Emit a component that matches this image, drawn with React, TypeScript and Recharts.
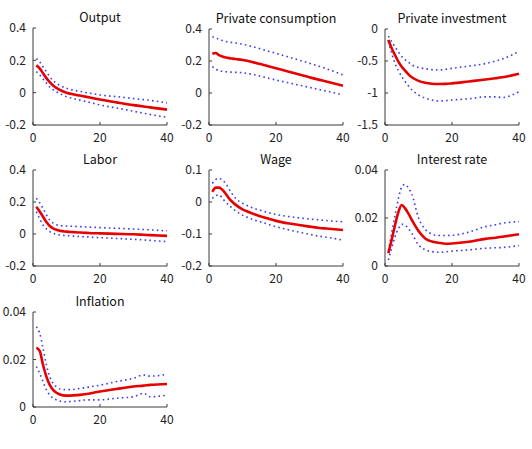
import { LineChart, Line, XAxis, YAxis } from 'recharts';

// Horizon (quarters after the shock) at which responses are recorded
const periods = [1, 2, 3, 4, 5, 6, 7, 8, 10, 12, 14, 16, 18, 20, 25, 30, 33, 35, 40];

const outputMean = [0.17, 0.15, 0.12, 0.09, 0.065, 0.045, 0.03, 0.017, 0.0, -0.01, -0.018, -0.026, -0.034, -0.042, -0.06, -0.077, -0.086, -0.091, -0.105];
const outputUpper = [0.21, 0.19, 0.16, 0.13, 0.1, 0.075, 0.058, 0.045, 0.027, 0.016, 0.008, 0.0, -0.007, -0.014, -0.025, -0.036, -0.043, -0.048, -0.063];
const outputLower = [0.13, 0.11, 0.085, 0.06, 0.035, 0.018, 0.005, -0.006, -0.025, -0.036, -0.046, -0.056, -0.066, -0.076, -0.095, -0.115, -0.127, -0.135, -0.152];

const consMean = [0.245, 0.25, 0.237, 0.228, 0.222, 0.218, 0.215, 0.212, 0.206, 0.198, 0.188, 0.177, 0.166, 0.155, 0.126, 0.098, 0.082, 0.072, 0.046];
const consUpper = [0.352, 0.345, 0.335, 0.328, 0.322, 0.318, 0.315, 0.313, 0.305, 0.295, 0.284, 0.272, 0.26, 0.248, 0.217, 0.186, 0.166, 0.152, 0.113];
const consLower = [0.165, 0.15, 0.138, 0.135, 0.133, 0.131, 0.13, 0.129, 0.127, 0.12, 0.112, 0.102, 0.091, 0.081, 0.058, 0.035, 0.021, 0.012, -0.012];

const invMean = [-0.17, -0.3, -0.41, -0.51, -0.59, -0.65, -0.71, -0.755, -0.81, -0.84, -0.855, -0.86, -0.858, -0.85, -0.82, -0.79, -0.77, -0.755, -0.7];
const invUpper = [-0.11, -0.2, -0.28, -0.36, -0.43, -0.48, -0.52, -0.56, -0.6, -0.62, -0.635, -0.64, -0.63, -0.615, -0.58, -0.54, -0.5, -0.47, -0.35];
const invLower = [-0.2, -0.38, -0.54, -0.65, -0.745, -0.82, -0.89, -0.95, -1.03, -1.08, -1.11, -1.125, -1.12, -1.11, -1.09, -1.06, -1.06, -1.07, -0.98];

const laborMean = [0.17, 0.14, 0.108, 0.075, 0.05, 0.035, 0.026, 0.02, 0.015, 0.012, 0.009, 0.007, 0.005, 0.004, 0.001, -0.002, -0.005, -0.007, -0.012];
const laborUpper = [0.223, 0.195, 0.16, 0.12, 0.087, 0.068, 0.058, 0.052, 0.05, 0.048, 0.046, 0.044, 0.042, 0.04, 0.036, 0.031, 0.028, 0.026, 0.019];
const laborLower = [0.14, 0.095, 0.056, 0.032, 0.015, 0.005, -0.002, -0.006, -0.01, -0.013, -0.016, -0.018, -0.021, -0.023, -0.028, -0.033, -0.037, -0.04, -0.048];

const wageMean = [0.032, 0.045, 0.045, 0.038, 0.026, 0.011, 0.0, -0.009, -0.023, -0.032, -0.04, -0.047, -0.053, -0.059, -0.069, -0.077, -0.081, -0.083, -0.0875];
const wageUpper = [0.058, 0.07, 0.074, 0.068, 0.058, 0.04, 0.024, 0.011, -0.004, -0.014, -0.022, -0.028, -0.034, -0.039, -0.047, -0.053, -0.056, -0.058, -0.062];
const wageLower = [0.011, 0.02, 0.022, 0.012, -0.001, -0.01, -0.02, -0.028, -0.041, -0.05, -0.058, -0.064, -0.071, -0.077, -0.09, -0.101, -0.107, -0.11, -0.119];

const rateMean = [0.0053, 0.011, 0.0171, 0.0225, 0.0254, 0.024, 0.0218, 0.0192, 0.0146, 0.0115, 0.0102, 0.0097, 0.0093, 0.0094, 0.0101, 0.0113, 0.0118, 0.0122, 0.0132];
const rateUpper = [0.0064, 0.014, 0.0213, 0.028, 0.033, 0.034, 0.0325, 0.0299, 0.0201, 0.0153, 0.0133, 0.0127, 0.0127, 0.0128, 0.0141, 0.0164, 0.0172, 0.0178, 0.0185];
const rateLower = [0.0025, 0.0075, 0.0122, 0.0155, 0.0174, 0.017, 0.0155, 0.0136, 0.0088, 0.0067, 0.006, 0.0057, 0.0059, 0.0062, 0.0067, 0.0074, 0.0076, 0.0077, 0.0085];

const inflMean = [0.025, 0.0236, 0.0177, 0.0128, 0.0093, 0.0072, 0.006, 0.0053, 0.0048, 0.0049, 0.0051, 0.0055, 0.006, 0.0065, 0.0076, 0.0086, 0.009, 0.0093, 0.0097];
const inflUpper = [0.0338, 0.031, 0.0247, 0.0177, 0.0128, 0.01, 0.0085, 0.0076, 0.0073, 0.0074, 0.0078, 0.0082, 0.0087, 0.0092, 0.0107, 0.0121, 0.0135, 0.013, 0.0138];
const inflLower = [0.017, 0.0142, 0.0107, 0.0072, 0.0051, 0.0037, 0.003, 0.0025, 0.0022, 0.0024, 0.0027, 0.003, 0.003, 0.003, 0.0037, 0.0043, 0.0058, 0.0043, 0.005];

const xTicks = [0, 20, 40];

const FONT = '"Noto Sans CJK JP", "Liberation Sans", sans-serif';
const AXIS = '#3a3a3a';
const YW = 44;
const XH = 24;
const TOP = 12;

type PanelProps = {
  title: string;
  mean: number[];
  upper: number[];
  lower: number[];
  yTicks: number[];
  box: [number, number, number, number]; // plot area: left, top, right, bottom
};

function Panel({ title, mean, upper, lower, yTicks, box }: PanelProps) {
  const [x0, y0, x1, y1] = box;
  const data = periods.map((t, i) => ({ t, mean: mean[i], upper: upper[i], lower: lower[i] }));
  const width = x1 - x0 + YW + 10;
  const height = y1 - y0 + TOP + XH;
  const tick = { fill: '#222', fontSize: 12, fontFamily: FONT };
  return (
    <>
      <div
        style={{
          position: 'absolute',
          left: x0 - 20,
          width: x1 - x0 + 40,
          top: y0 - 18,
          textAlign: 'center',
          fontFamily: FONT,
          fontSize: 12.5,
          color: '#111',
          lineHeight: '14px',
          whiteSpace: 'nowrap',
        }}
      >
        {title}
      </div>
      <div style={{ position: 'absolute', left: x0 - YW, top: y0 - TOP }}>
        <LineChart width={width} height={height} data={data} margin={{ top: TOP, right: 10, bottom: 0, left: 0 }}>
          <XAxis
            dataKey="t"
            type="number"
            domain={[0, 40]}
            ticks={xTicks}
            height={XH}
            tick={tick}
            stroke={AXIS}
            tickSize={-3}
            tickMargin={11}
          />
          <YAxis
            type="number"
            domain={[yTicks[0], yTicks[yTicks.length - 1]]}
            ticks={yTicks}
            allowDataOverflow
            width={YW}
            tick={tick}
            stroke={AXIS}
            tickSize={-3}
            tickMargin={10}
          />
          <Line type="monotone" dataKey="upper" stroke="#3d3df2" strokeWidth={1.6} strokeDasharray="1.6 3.2" dot={false} isAnimationActive={false} />
          <Line type="monotone" dataKey="lower" stroke="#3d3df2" strokeWidth={1.6} strokeDasharray="1.6 3.2" dot={false} isAnimationActive={false} />
          <Line type="monotone" dataKey="mean" stroke="#e60000" strokeWidth={2.6} dot={false} isAnimationActive={false} />
        </LineChart>
      </div>
    </>
  );
}

export default function App() {
  return (
    <div style={{ position: 'absolute', left: 0, top: 0, width: 532, height: 449, background: '#fff' }}>
      <Panel title="Output" mean={outputMean} upper={outputUpper} lower={outputLower} yTicks={[-0.2, 0, 0.2, 0.4]} box={[33, 28, 167, 125]} />
      <Panel title="Private consumption" mean={consMean} upper={consUpper} lower={consLower} yTicks={[-0.2, 0, 0.2, 0.4]} box={[209, 29, 343, 125]} />
      <Panel title="Private investment" mean={invMean} upper={invUpper} lower={invLower} yTicks={[-1.5, -1, -0.5, 0]} box={[385, 29, 519, 125]} />
      <Panel title="Labor" mean={laborMean} upper={laborUpper} lower={laborLower} yTicks={[-0.2, 0, 0.2, 0.4]} box={[33, 170, 167, 266]} />
      <Panel title="Wage" mean={wageMean} upper={wageUpper} lower={wageLower} yTicks={[-0.2, -0.1, 0, 0.1]} box={[209, 170, 343, 266]} />
      <Panel title="Interest rate" mean={rateMean} upper={rateUpper} lower={rateLower} yTicks={[0, 0.02, 0.04]} box={[385, 170, 519, 266]} />
      <Panel title="Inflation" mean={inflMean} upper={inflUpper} lower={inflLower} yTicks={[0, 0.02, 0.04]} box={[33, 312, 167, 407]} />
    </div>
  );
}
